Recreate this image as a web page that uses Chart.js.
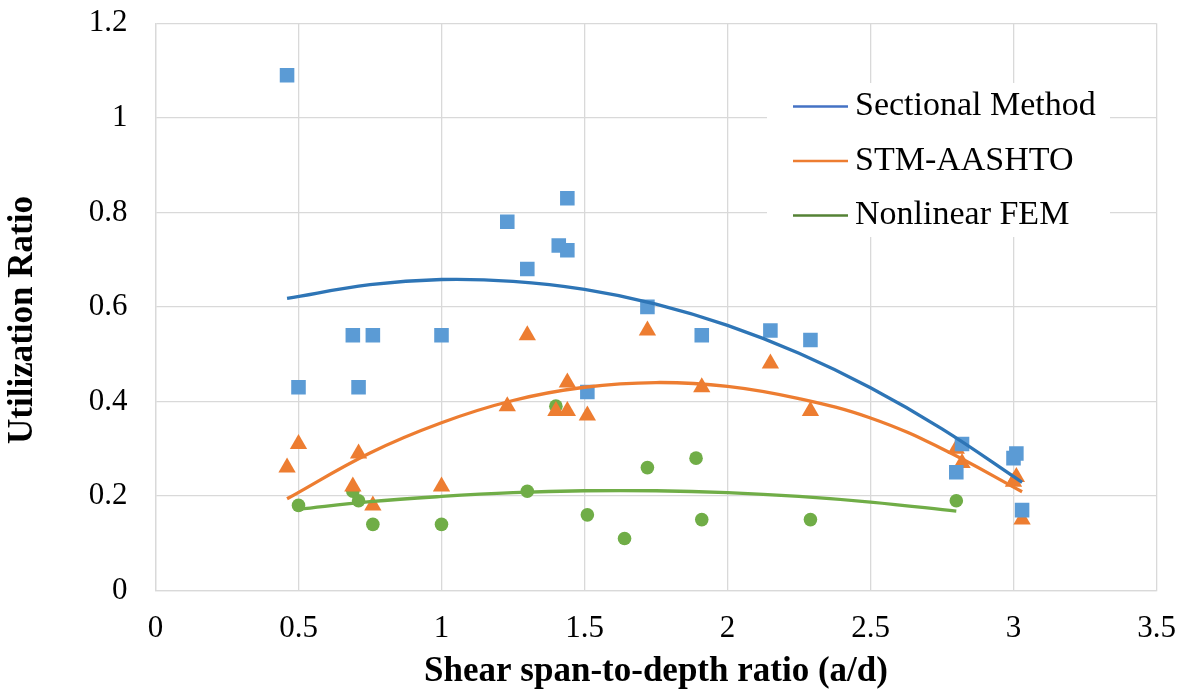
<!DOCTYPE html>
<html>
<head>
<meta charset="utf-8">
<title>Utilization Ratio vs a/d</title>
<script src="https://cdn.jsdelivr.net/npm/chart.js@4.4.1/dist/chart.umd.min.js"></script>
<style>
  html, body { margin: 0; padding: 0; background: #fff; }
  #wrap { width: 1184px; height: 690px; }
</style>
</head>
<body>
<div id="wrap"><canvas id="chart" width="1184" height="690"></canvas></div>
<script>
const sectionalX = [0.46, 0.50, 0.69, 0.71, 0.76, 1.00, 1.23, 1.30, 1.41, 1.44, 1.44, 1.51, 1.72, 1.91, 2.15, 2.29, 2.80, 2.82, 3.00, 3.01, 3.03];
const sectionalY = [1.09, 0.43, 0.54, 0.43, 0.54, 0.54, 0.78, 0.68, 0.73, 0.72, 0.83, 0.42, 0.60, 0.54, 0.55, 0.53, 0.25, 0.31, 0.28, 0.29, 0.17];

const stmX = [0.46, 0.50, 0.69, 0.71, 0.76, 1.00, 1.23, 1.30, 1.40, 1.44, 1.44, 1.51, 1.72, 1.91, 2.15, 2.29, 2.80, 2.82, 3.00, 3.01, 3.03];
const stmY = [0.26, 0.31, 0.22, 0.29, 0.18, 0.22, 0.39, 0.54, 0.38, 0.44, 0.38, 0.37, 0.55, 0.43, 0.48, 0.38, 0.30, 0.27, 0.23, 0.24, 0.15];

const femX = [0.50, 0.69, 0.71, 0.76, 1.00, 1.30, 1.40, 1.51, 1.64, 1.72, 1.89, 1.91, 2.29, 2.80];
const femY = [0.18, 0.21, 0.19, 0.14, 0.14, 0.21, 0.39, 0.16, 0.11, 0.26, 0.28, 0.15, 0.15, 0.19];

// Trend curves
const trendX = [0.46, 0.75, 1.0, 1.25, 1.5, 1.75, 2.0, 2.25, 2.5, 2.75, 3.03];
const sectionalTrend = [0.618, 0.647, 0.658, 0.654, 0.637, 0.606, 0.561, 0.502, 0.429, 0.342, 0.229];
const stmTrend = [0.194, 0.291, 0.355, 0.402, 0.430, 0.440, 0.432, 0.406, 0.365, 0.300, 0.209];
const femTrendX = [0.50, 0.75, 1.0, 1.25, 1.5, 1.75, 2.0, 2.25, 2.5, 2.80];
const femTrend = [0.172, 0.188, 0.199, 0.207, 0.211, 0.211, 0.207, 0.199, 0.187, 0.168];

// Axis tick labels
const xTicks = ['0', '0.5', '1', '1.5', '2', '2.5', '3', '3.5'];
const yTicks = ['0', '0.2', '0.4', '0.6', '0.8', '1', '1.2'];

const legendNames = ['Sectional Method', 'STM-AASHTO', 'Nonlinear FEM'];
const legendColors = ['#4472C4', '#ED7D31', '#548235'];

const zip = (xs, ys) => xs.map((x, i) => ({x: x, y: ys[i]}));

const serif = "'Liberation Serif', 'Times New Roman', serif";

// Legend box drawn inside the plot area, like the original
const boxLegend = {
  id: 'boxLegend',
  afterDraw(chart) {
    const ctx = chart.ctx;
    ctx.save();
    ctx.fillStyle = '#fff';
    ctx.fillRect(767, 83, 343, 154);
    ctx.font = '34px ' + serif;
    ctx.textBaseline = 'middle';
    ctx.textAlign = 'left';
    legendNames.forEach((name, i) => {
      const y = 106.5 + i * 54.5;
      ctx.strokeStyle = legendColors[i];
      ctx.lineWidth = 2.7;
      ctx.beginPath();
      ctx.moveTo(793, y);
      ctx.lineTo(848, y);
      ctx.stroke();
      ctx.fillStyle = '#000';
      ctx.fillText(name, 855, y);
    });
    ctx.restore();
  }
};

const trendStyle = {type: 'line', showLine: true, pointRadius: 0, borderWidth: 3.3, tension: 0.4, fill: false};

new Chart(document.getElementById('chart'), {
  type: 'scatter',
  data: {
    datasets: [
      Object.assign({label: 'Sectional Method', data: zip(trendX, sectionalTrend), borderColor: '#2E75B6'}, trendStyle),
      Object.assign({label: 'STM-AASHTO', data: zip(trendX, stmTrend), borderColor: '#ED7D31'}, trendStyle),
      Object.assign({label: 'Nonlinear FEM', data: zip(femTrendX, femTrend), borderColor: '#70AD47'}, trendStyle),
      {
        label: 'Sectional points', data: zip(sectionalX, sectionalY),
        pointStyle: 'rect', pointRadius: 10.3, borderWidth: 0,
        backgroundColor: '#5B9BD5', borderColor: '#5B9BD5'
      },
      {
        label: 'STM points', data: zip(stmX, stmY),
        pointStyle: 'triangle', pointRadius: 10, borderWidth: 0,
        backgroundColor: '#ED7D31', borderColor: '#ED7D31'
      },
      {
        label: 'FEM points', data: zip(femX, femY),
        pointStyle: 'circle', pointRadius: 6.8, borderWidth: 0,
        backgroundColor: '#70AD47', borderColor: '#70AD47'
      }
    ]
  },
  options: {
    responsive: false,
    animation: false,
    layout: {padding: {top: 23.3, right: 27.5, left: 0, bottom: 0}},
    plugins: {
      legend: {display: false},
      tooltip: {enabled: false}
    },
    scales: {
      x: {
        type: 'linear', min: 0, max: 3.5,
        afterFit: (scale) => {
          scale.height = 99.5;
          scale.paddingLeft = 0;
          scale.paddingRight = 0;
        },
        ticks: {
          stepSize: 0.5, padding: 20, color: '#000',
          font: {family: serif, size: 31},
          callback: (v, i) => xTicks[i]
        },
        grid: {color: '#d9d9d9', lineWidth: 1.3, drawTicks: false},
        border: {color: '#d9d9d9', width: 1.3},
        title: {
          display: true, text: 'Shear span-to-depth ratio (a/d)', color: '#000',
          font: {family: serif, size: 35, weight: 'bold'},
          padding: {top: 0, bottom: -3}
        }
      },
      y: {
        type: 'linear', min: 0, max: 1.2,
        afterFit: (scale) => {
          scale.width = 155.5;
          scale.paddingTop = 0;
          scale.paddingBottom = 0;
        },
        ticks: {
          stepSize: 0.2, padding: 28, color: '#000',
          font: {family: serif, size: 31},
          callback: (v, i) => yTicks[i]
        },
        grid: {color: '#d9d9d9', lineWidth: 1.3, drawTicks: false},
        border: {color: '#d9d9d9', width: 1.3},
        title: {
          display: true, text: 'Utilization Ratio\u00a0\u00a0\u00a0', color: '#000',
          font: {family: serif, size: 35, weight: 'bold'},
          padding: {top: 2, bottom: 0}
        }
      }
    }
  },
  plugins: [boxLegend]
});
</script>
</body>
</html>
